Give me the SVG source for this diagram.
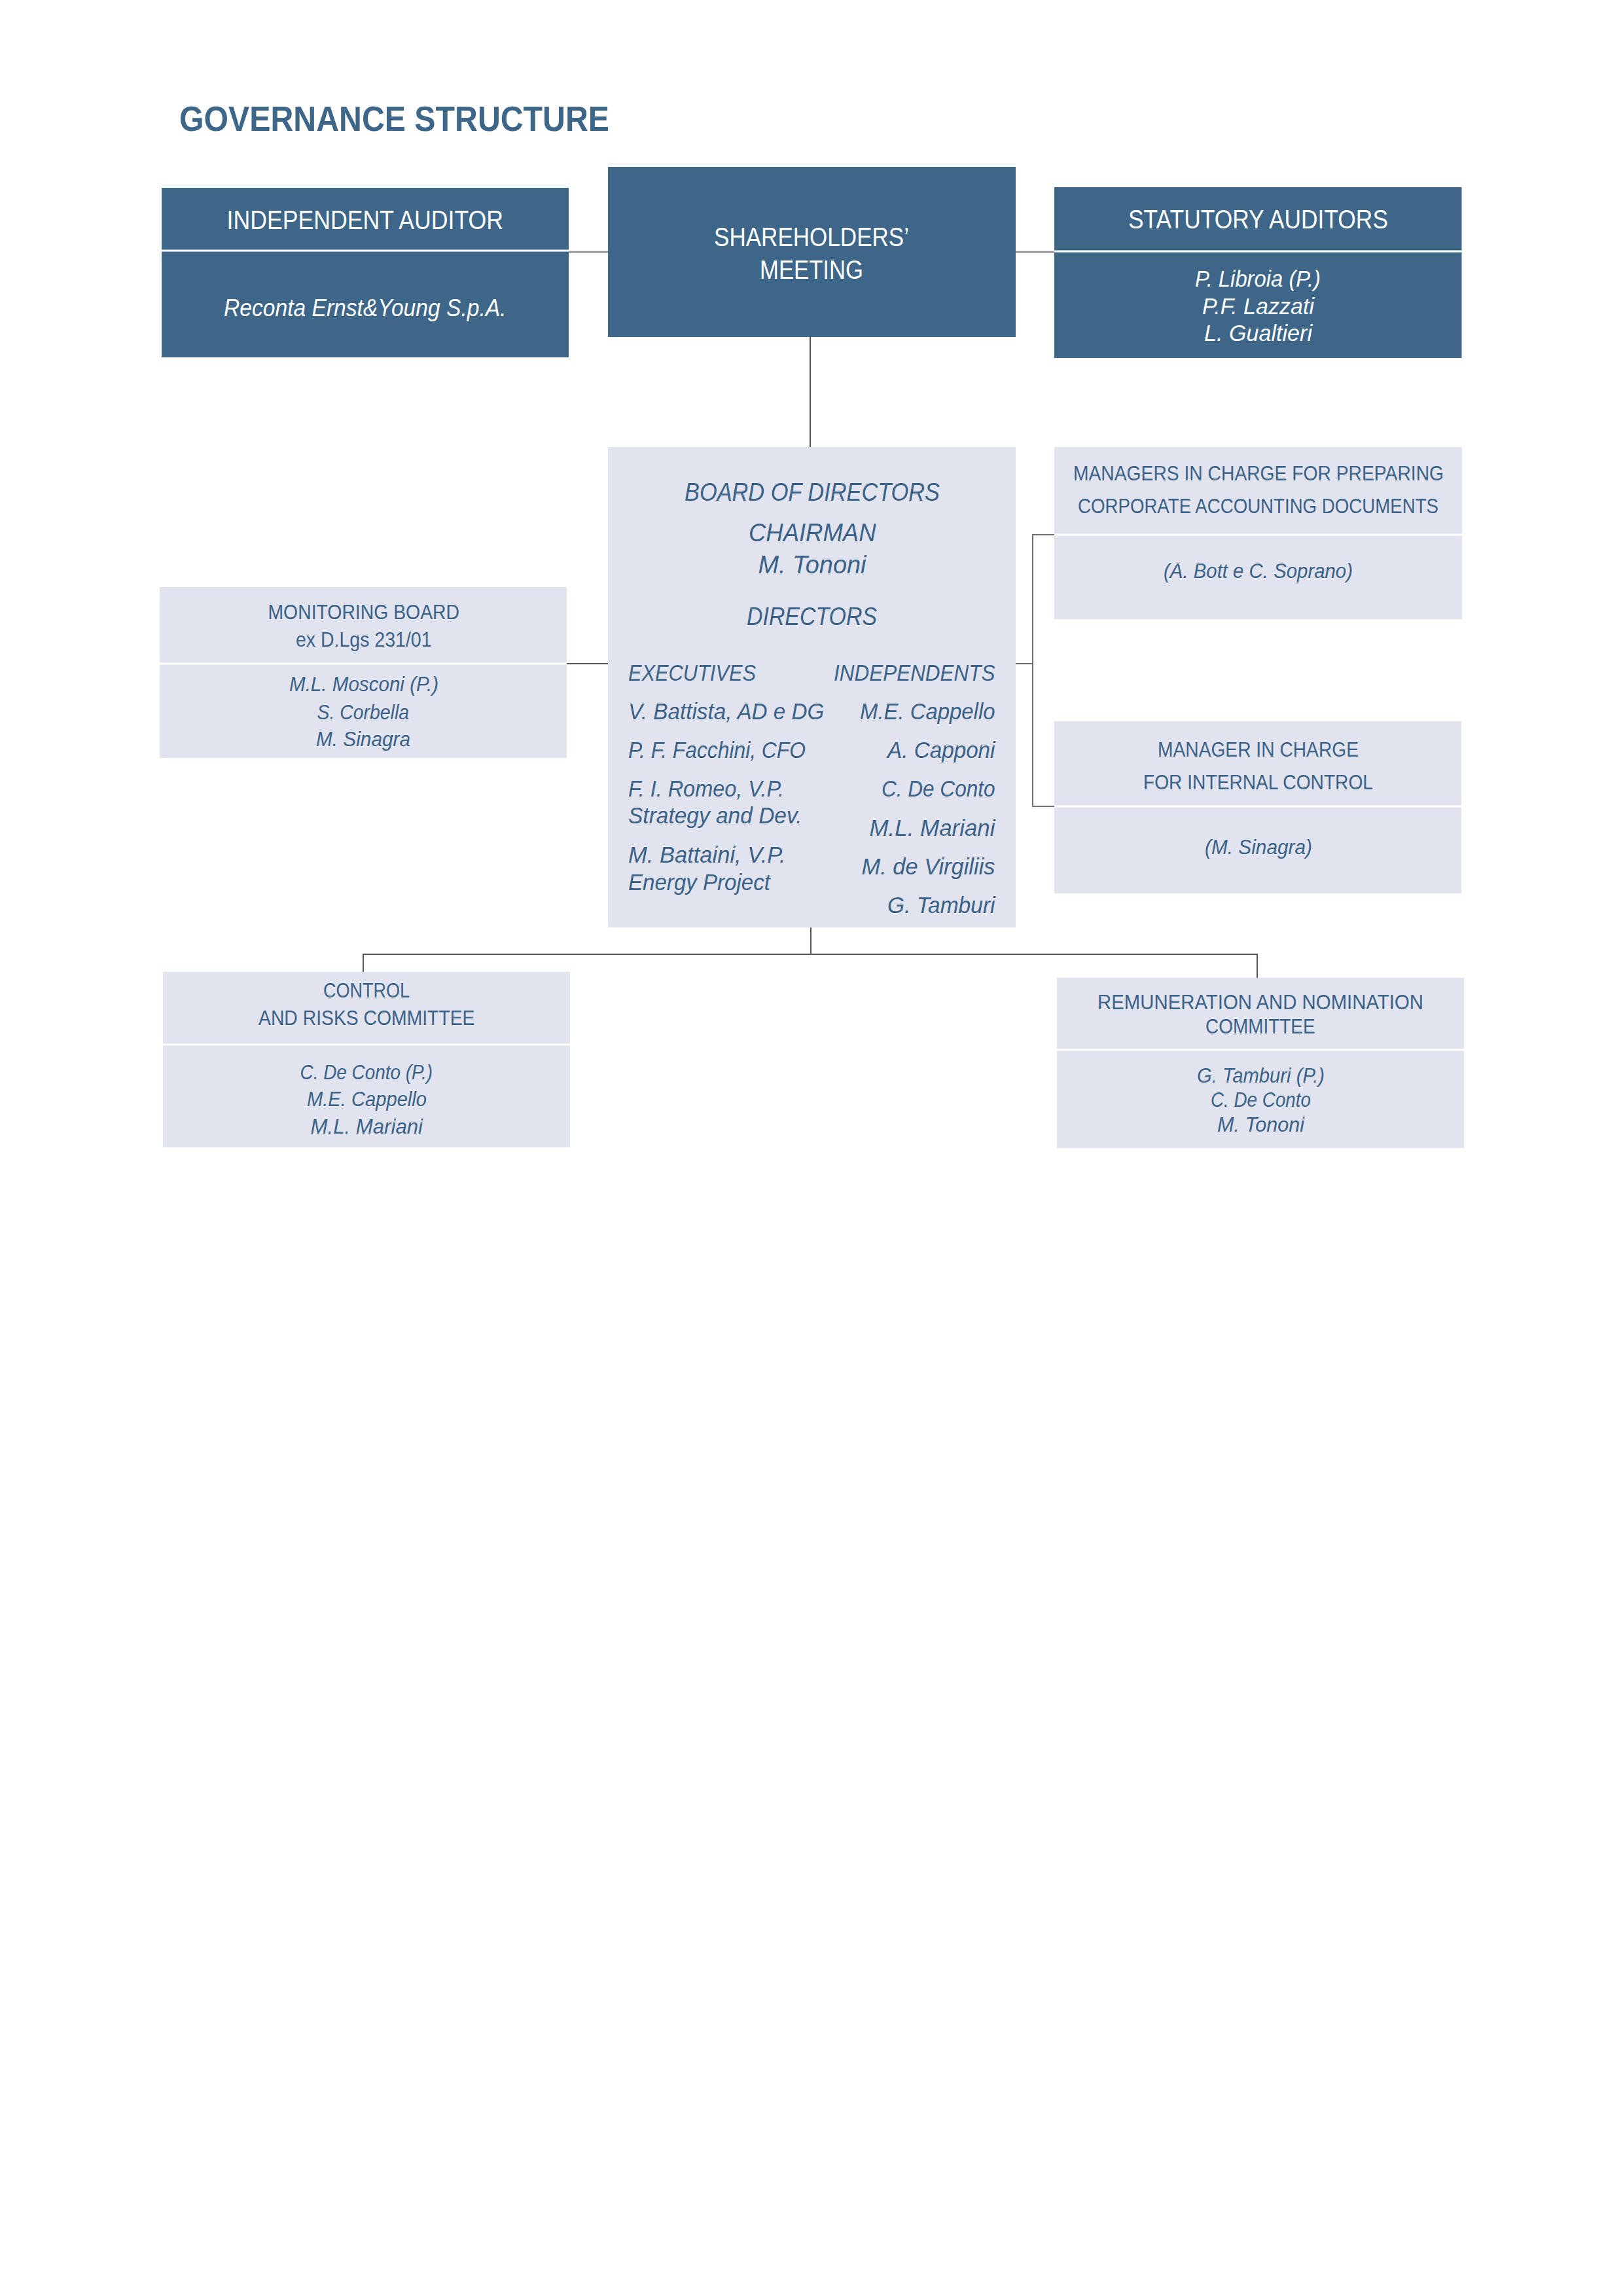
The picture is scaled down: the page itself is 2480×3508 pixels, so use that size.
<svg xmlns="http://www.w3.org/2000/svg" width="2480" height="3508" viewBox="0 0 2480 3508">
<style>
.dark{fill:#3d6689}
.light{fill:#e1e4ee}
.div{stroke:#ffffff;stroke-width:3}
text{font-family:"Liberation Sans","Open Sans",sans-serif}
.w{fill:#ffffff}
.b{fill:#3a6187}
.hd{font-size:40px}
.it{font-style:italic}
.sm{font-size:32px}
.conn{fill:none}
</style>
<rect width="2480" height="3508" fill="#ffffff"/>
<text x="274" y="200" font-size="54" font-weight="bold" fill="#3d6689" textLength="657" lengthAdjust="spacingAndGlyphs">GOVERNANCE STRUCTURE</text>

<g id="connectors" class="conn">
<path d="M869 385H929" stroke="#8c8c8c" stroke-width="2.5"/>
<path d="M1552 385H1611" stroke="#8c8c8c" stroke-width="2.5"/>
<path d="M1238 515V683" stroke="#222" stroke-width="1.6"/>
<path d="M866 1014H929" stroke="#222" stroke-width="1.6"/>
<path d="M1552 1014H1578M1611 817H1578V1232H1611" stroke="#6f6f6f" stroke-width="2"/>
<path d="M1239 1417V1458M555 1485V1458H1921V1494" stroke="#555" stroke-width="2"/>
</g>

<g id="independent-auditor">
<rect class="dark" x="247" y="287" width="622" height="259"/>
<line class="div" x1="247" y1="383" x2="869" y2="383"/>
<text class="w hd" x="346.5" y="350" textLength="422.5" lengthAdjust="spacingAndGlyphs">INDEPENDENT AUDITOR</text>
<text class="w it" font-size="36" x="342" y="483" textLength="431.5" lengthAdjust="spacingAndGlyphs">Reconta Ernst&amp;Young S.p.A.</text>
</g>

<g id="shareholders-meeting">
<rect class="dark" x="929" y="255" width="623" height="260"/>
<text class="w hd" x="1091" y="376" textLength="298" lengthAdjust="spacingAndGlyphs">SHAREHOLDERS’</text>
<text class="w hd" x="1161" y="426" textLength="158" lengthAdjust="spacingAndGlyphs">MEETING</text>
</g>

<g id="statutory-auditors">
<rect class="dark" x="1611" y="286" width="622.5" height="261"/>
<line class="div" x1="1611" y1="384" x2="2233.5" y2="384"/>
<text class="w hd" x="1724" y="349" textLength="397" lengthAdjust="spacingAndGlyphs">STATUTORY AUDITORS</text>
<text class="w it" font-size="35" x="1826" y="438" textLength="192" lengthAdjust="spacingAndGlyphs">P. Libroia (P.)</text>
<text class="w it" font-size="35" x="1837" y="480" textLength="171" lengthAdjust="spacingAndGlyphs">P.F. Lazzati</text>
<text class="w it" font-size="35" x="1840" y="521" textLength="165" lengthAdjust="spacingAndGlyphs">L. Gualtieri</text>
</g>

<g id="board-of-directors">
<rect class="light" x="929" y="683" width="623" height="734"/>
<text class="b it" font-size="38" x="1046" y="765" textLength="390" lengthAdjust="spacingAndGlyphs">BOARD OF DIRECTORS</text>
<text class="b it" font-size="38" x="1144" y="827" textLength="194.5" lengthAdjust="spacingAndGlyphs">CHAIRMAN</text>
<text class="b it" font-size="38" x="1158.5" y="876" textLength="165" lengthAdjust="spacingAndGlyphs">M. Tononi</text>
<text class="b it" font-size="38" x="1141" y="955" textLength="199" lengthAdjust="spacingAndGlyphs">DIRECTORS</text>
<text class="b it" font-size="35" x="960" y="1040" textLength="195" lengthAdjust="spacingAndGlyphs">EXECUTIVES</text>
<text class="b it" font-size="35" x="1274" y="1040" textLength="246.5" lengthAdjust="spacingAndGlyphs">INDEPENDENTS</text>
<text class="b it" font-size="35" x="960" y="1099" textLength="299.5" lengthAdjust="spacingAndGlyphs">V. Battista, AD e DG</text>
<text class="b it" font-size="35" x="1314" y="1099" textLength="206.5" lengthAdjust="spacingAndGlyphs">M.E. Cappello</text>
<text class="b it" font-size="35" x="960" y="1158" textLength="271" lengthAdjust="spacingAndGlyphs">P. F. Facchini, CFO</text>
<text class="b it" font-size="35" x="1356" y="1158" textLength="164.5" lengthAdjust="spacingAndGlyphs">A. Capponi</text>
<text class="b it" font-size="35" x="960" y="1217" textLength="238" lengthAdjust="spacingAndGlyphs">F. I. Romeo, V.P.</text>
<text class="b it" font-size="35" x="1347" y="1217" textLength="173.5" lengthAdjust="spacingAndGlyphs">C. De Conto</text>
<text class="b it" font-size="35" x="960" y="1258" textLength="265.5" lengthAdjust="spacingAndGlyphs">Strategy and Dev.</text>
<text class="b it" font-size="35" x="1328.5" y="1277" textLength="192" lengthAdjust="spacingAndGlyphs">M.L. Mariani</text>
<text class="b it" font-size="35" x="960" y="1318" textLength="240.5" lengthAdjust="spacingAndGlyphs">M. Battaini, V.P.</text>
<text class="b it" font-size="35" x="1316.5" y="1336" textLength="204" lengthAdjust="spacingAndGlyphs">M. de Virgiliis</text>
<text class="b it" font-size="35" x="960" y="1360" textLength="217" lengthAdjust="spacingAndGlyphs">Energy Project</text>
<text class="b it" font-size="35" x="1356" y="1395" textLength="164.5" lengthAdjust="spacingAndGlyphs">G. Tamburi</text>
</g>

<g id="managers-accounting">
<rect class="light" x="1611" y="683" width="623" height="263"/>
<line class="div" x1="1611" y1="817" x2="2234" y2="817"/>
<text class="b sm" x="1640" y="734" textLength="566" lengthAdjust="spacingAndGlyphs">MANAGERS IN CHARGE FOR PREPARING</text>
<text class="b sm" x="1647" y="784" textLength="551" lengthAdjust="spacingAndGlyphs">CORPORATE ACCOUNTING DOCUMENTS</text>
<text class="b it" font-size="31" x="1778" y="883" textLength="289" lengthAdjust="spacingAndGlyphs">(A. Bott e C. Soprano)</text>
</g>

<g id="manager-internal-control">
<rect class="light" x="1611" y="1102" width="622" height="263"/>
<line class="div" x1="1611" y1="1232" x2="2233" y2="1232"/>
<text class="b sm" x="1769" y="1156" textLength="307" lengthAdjust="spacingAndGlyphs">MANAGER IN CHARGE</text>
<text class="b sm" x="1747" y="1206" textLength="351" lengthAdjust="spacingAndGlyphs">FOR INTERNAL CONTROL</text>
<text class="b it" font-size="31" x="1841" y="1305" textLength="164" lengthAdjust="spacingAndGlyphs">(M. Sinagra)</text>
</g>

<g id="monitoring-board">
<rect class="light" x="244" y="897" width="622" height="261"/>
<line class="div" x1="244" y1="1014" x2="866" y2="1014"/>
<text class="b sm" x="409.5" y="946" textLength="292.5" lengthAdjust="spacingAndGlyphs">MONITORING BOARD</text>
<text class="b sm" x="452" y="988" textLength="207.5" lengthAdjust="spacingAndGlyphs">ex D.Lgs 231/01</text>
<text class="b it" font-size="31" x="442" y="1056" textLength="228" lengthAdjust="spacingAndGlyphs">M.L. Mosconi (P.)</text>
<text class="b it" font-size="31" x="484.5" y="1099" textLength="140.5" lengthAdjust="spacingAndGlyphs">S. Corbella</text>
<text class="b it" font-size="31" x="483" y="1140" textLength="144" lengthAdjust="spacingAndGlyphs">M. Sinagra</text>
</g>

<g id="control-risks-committee">
<rect class="light" x="249" y="1485" width="622" height="268"/>
<line class="div" x1="249" y1="1596" x2="871" y2="1596"/>
<text class="b sm" x="494" y="1523.5" textLength="132" lengthAdjust="spacingAndGlyphs">CONTROL</text>
<text class="b sm" x="395" y="1566" textLength="330.5" lengthAdjust="spacingAndGlyphs">AND RISKS COMMITTEE</text>
<text class="b it" font-size="32" x="458.5" y="1649" textLength="202.5" lengthAdjust="spacingAndGlyphs">C. De Conto (P.)</text>
<text class="b it" font-size="32" x="469" y="1690" textLength="183" lengthAdjust="spacingAndGlyphs">M.E. Cappello</text>
<text class="b it" font-size="32" x="474.5" y="1731.5" textLength="171.5" lengthAdjust="spacingAndGlyphs">M.L. Mariani</text>
</g>

<g id="remuneration-nomination-committee">
<rect class="light" x="1615" y="1494" width="622" height="260"/>
<line class="div" x1="1615" y1="1604" x2="2237" y2="1604"/>
<text class="b sm" x="1677" y="1542" textLength="498" lengthAdjust="spacingAndGlyphs">REMUNERATION AND NOMINATION</text>
<text class="b sm" x="1842" y="1579" textLength="167.5" lengthAdjust="spacingAndGlyphs">COMMITTEE</text>
<text class="b it" font-size="32" x="1829" y="1654" textLength="195" lengthAdjust="spacingAndGlyphs">G. Tamburi (P.)</text>
<text class="b it" font-size="32" x="1850" y="1691" textLength="153" lengthAdjust="spacingAndGlyphs">C. De Conto</text>
<text class="b it" font-size="32" x="1860" y="1729" textLength="133" lengthAdjust="spacingAndGlyphs">M. Tononi</text>
</g>
</svg>
